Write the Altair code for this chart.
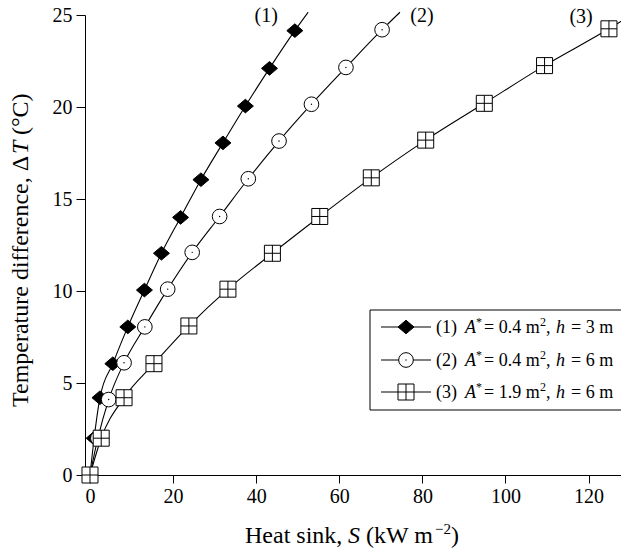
import altair as alt
import pandas as pd

# ---------------- data ----------------
series_names = ["(1)", "(2)", "(3)"]
S1 = [0, 1.0, 2.4, 5.5, 9.1, 13.1, 17.2, 21.8, 26.7, 32.0, 37.4, 43.2, 49.3]
T1 = [0, 2.0, 4.2, 6.05, 8.05, 10.05, 12.05, 14.0, 16.05, 18.05, 20.05, 22.1, 24.15]
S2 = [0, 1.9, 4.5, 8.2, 13.2, 18.7, 24.6, 31.2, 38.1, 45.5, 53.3, 61.6, 70.3]
T2 = [0, 2.0, 4.1, 6.1, 8.05, 10.1, 12.1, 14.05, 16.1, 18.15, 20.15, 22.15, 24.2]
S3 = [0, 2.7, 8.2, 15.4, 23.8, 33.2, 43.9, 55.3, 67.7, 80.8, 94.9, 109.4, 124.9]
T3 = [0, 2.0, 4.2, 6.05, 8.1, 10.1, 12.05, 14.05, 16.15, 18.2, 20.2, 22.25, 24.25]
# where each drawn curve continues past its last marker
end_S = [52.5, 74.6, 128.5]
end_T = [25.15, 25.15, 24.75]
# curve labels at the top
label_S = [42.4, 79.9, 118.2]
label_T = [24.95, 24.95, 24.9]
# legend values
legend_ids = ["(1)", "(2)", "(3)"]
legend_area = ["0.4", "0.4", "1.9"]
legend_h = ["3", "6", "6"]
x_ticks = [0, 20, 40, 60, 80, 100, 120]
y_ticks = [0, 5, 10, 15, 20, 25]

SERIF = "Liberation Serif"

pts = []
for name, xs, ys in zip(series_names, [S1, S2, S3], [T1, T2, T3]):
    for xv, yv in zip(xs, ys):
        pts.append({"series": name, "S": xv, "T": yv})
pts = pd.DataFrame(pts)

lines = []
for i, (name, xs, ys) in enumerate(zip(series_names, [S1, S2, S3], [T1, T2, T3])):
    for xv, yv in zip(list(xs) + [end_S[i]], list(ys) + [end_T[i]]):
        lines.append({"series": name, "S": xv, "T": yv})
lines = pd.DataFrame(lines)

labels = pd.DataFrame({"S": label_S, "T": label_T, "lab": series_names})

xsc = alt.Scale(domain=[-1.2, 127.8], nice=False, zero=False)
ysc = alt.Scale(domain=[0, 25], nice=False, zero=False)

AX = dict(grid=False, title=None, domainColor="black", tickColor="black", labelColor="black",
          labelFont=SERIF, labelFontSize=20, domainWidth=1, tickWidth=1)
xenc = alt.X("S:Q", scale=xsc, axis=alt.Axis(values=x_ticks, tickSize=8, labelPadding=3, **AX))
yenc = alt.Y("T:Q", scale=ysc, axis=alt.Axis(values=y_ticks, tickSize=9, labelPadding=4, **AX))

DIAMOND = "M0,-0.85L1,0L0,0.85L-1,0Z"
SQCROSS = "M-1,-1H1V1H-1Z M0,-1V1 M-1,0H1"

base_l = alt.Chart(lines)
line_layer = base_l.mark_line(color="black", strokeWidth=1.1, interpolate="monotone").encode(
    x=xenc, y=yenc, detail="series:N")

base_p = alt.Chart(pts)
diam = base_p.transform_filter(alt.datum.series == "(1)").mark_point(
    shape=DIAMOND, size=256, filled=True, fill="black", stroke="black", strokeWidth=1,
    opacity=1).encode(x="S:Q", y="T:Q")
circ = base_p.transform_filter(alt.datum.series == "(2)").mark_point(
    shape="circle", size=215, filled=True, fill="white", stroke="black", strokeWidth=1,
    opacity=1, fillOpacity=1).encode(x="S:Q", y="T:Q")
dots = base_p.transform_filter(alt.datum.series == "(2)").mark_point(
    shape="circle", size=2, filled=True, fill="black", opacity=1).encode(x="S:Q", y="T:Q")
sqr = base_p.transform_filter(alt.datum.series == "(3)").mark_point(
    shape=SQCROSS, size=256, filled=True, fill="white", stroke="black", strokeWidth=1,
    opacity=1, fillOpacity=1).encode(x="S:Q", y="T:Q")

lab_layer = alt.Chart(labels).mark_text(font=SERIF, fontSize=20, color="black",
                                        baseline="middle").encode(
    x="S:Q", y="T:Q", text="lab:N")

one = pd.DataFrame({"a": [0]})


def txt(s, x, y, size=18, style="normal", angle=0, dy=0, align="left"):
    return alt.Chart(one).mark_text(text=s, align=align, baseline="alphabetic", font=SERIF,
                                    fontSize=size, fontStyle=style, angle=angle, dy=dy,
                                    color="black").encode(x=alt.value(x), y=alt.value(y))


layers = [line_layer, diam, circ, dots, sqr, lab_layer]

# legend box
layers.append(alt.Chart(one).mark_rect(fill="white", stroke="black", strokeWidth=1).encode(
    x=alt.value(285), x2=alt.value(560), y=alt.value(295), y2=alt.value(395)))

row_y = [312, 345, 377]
shapes = [DIAMOND, "circle", SQCROSS]
fills = ["black", "white", "white"]
sizes = [256, 215, 256]
for i in range(3):
    yv = row_y[i]
    layers.append(alt.Chart(one).mark_rule(color="black", strokeWidth=1.1).encode(
        x=alt.value(296), x2=alt.value(346), y=alt.value(yv)))
    layers.append(alt.Chart(one).mark_point(shape=shapes[i], size=sizes[i], filled=True,
                                            fill=fills[i], stroke="black", strokeWidth=1,
                                            opacity=1, fillOpacity=1).encode(
        x=alt.value(321), y=alt.value(yv)))
    if i == 1:
        layers.append(alt.Chart(one).mark_point(shape="circle", size=2, filled=True,
                                                fill="black", opacity=1).encode(
            x=alt.value(321), y=alt.value(yv)))
    b = yv + 6
    layers += [
        txt(legend_ids[i], 351, b),
        txt("A", 380, b, style="italic"),
        txt("*", 391, b, size=12, dy=-7),
        txt("= " + legend_area[i] + " m", 399, b),
        txt("2", 455, b, size=12, dy=-7),
        txt(",", 461, b),
        txt("h", 471, b, style="italic"),
        txt("= " + legend_h[i] + " m", 486, b),
    ]

# x-axis title with italic S
xb = 528
layers += [
    txt("Heat sink,", 160, xb, size=24),
    txt("S", 263, xb, size=24, style="italic"),
    txt("(kW m", 281, xb, size=24),
    txt("\u22122", 350, xb, size=15, dy=-9),
    txt(")", 366, xb, size=24),
]
# y-axis title with italic T (rotated)
yx = -57
layers += [
    txt("Temperature difference, \u0394", yx, 392, size=24, angle=270),
    txt("T", yx, 139, size=24, style="italic", angle=270),
    txt("(\u00b0C)", yx, 120, size=24, angle=270),
]

chart = alt.layer(*layers).properties(
    width=536, height=460,
    autosize=alt.AutoSizeParams(type="none"),
    padding={"left": 85, "top": 15, "right": 0, "bottom": 80},
    background="white",
).configure_view(stroke=None)

chart.save("out.html", embed_options={"renderer": "svg", "actions": False})
